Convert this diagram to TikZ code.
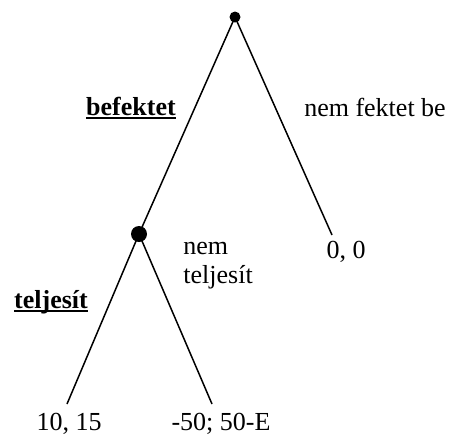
\documentclass[tikz,border=0pt]{standalone}
\usepackage{fontspec}
\setmainfont{Liberation Serif}
\newcommand{\thickul}[1]{\setbox0=\hbox{#1}\rlap{\rule[-2.2pt]{\wd0}{1.1pt}}\box0}
\begin{document}
\begin{tikzpicture}[x=0.5pt,y=-0.5pt,
  edge/.style={line width=0.75pt},
  dot/.style={circle,fill=black,inner sep=0pt},
  lbl/.style={inner sep=0pt,anchor=base,font=\fontsize{13}{15}\selectfont}]
\useasboundingbox (0,0) rectangle (450,435);
\node[dot,minimum size=5.5pt] (root) at (235,17) {};
\node[dot,minimum size=8pt] (mid) at (139,234) {};
\coordinate (rend) at (332,235);
\coordinate (l1) at (67,404);
\coordinate (l2) at (212,404);
\draw[edge] (root.center) -- (mid.center);
\draw[edge] (root.center) -- (rend);
\draw[edge] (mid.center) -- (l1);
\draw[edge] (mid.center) -- (l2);
\node[lbl] (bef) at (131,115) {\thickul{\textbf{befektet}}};
\node[lbl] (nfb) at (375,116) {nem fektet be};
\node[lbl] (tel) at (51,308) {\thickul{\textbf{teljesít}}};
\node[lbl,anchor=base west,align=left] (nt) at (183,283) {nem\\[-0.5pt]teljesít};
\node[lbl] (p1) at (69,430) {10, 15};
\node[lbl] (p2) at (221,430) {-50; 50-E};
\node[lbl] (p3) at (346,258) {0, 0};
\end{tikzpicture}
\end{document}
